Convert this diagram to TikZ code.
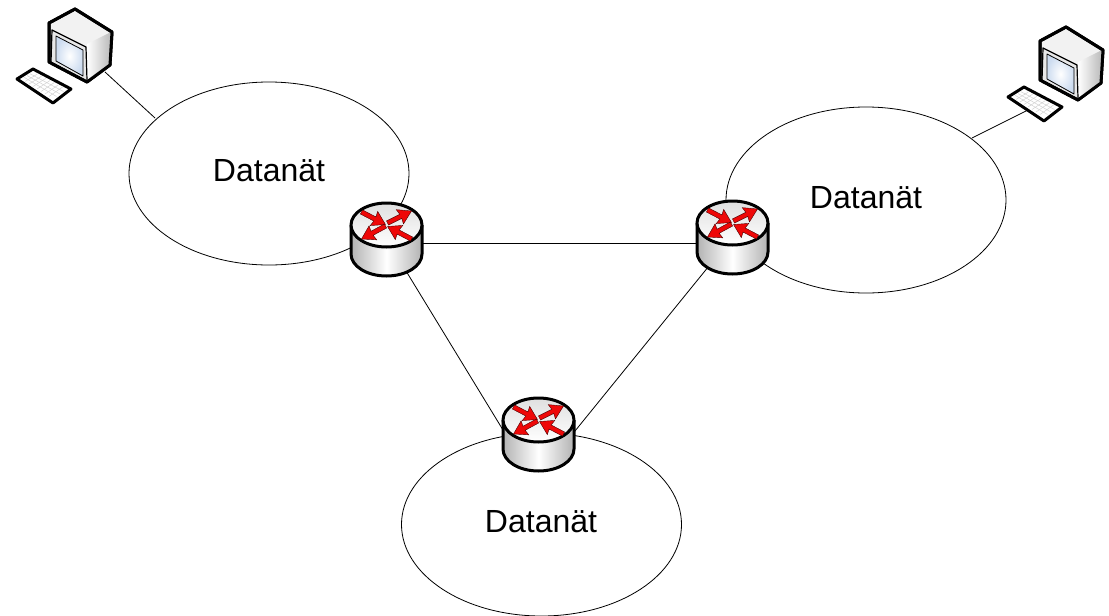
\documentclass[tikz,border=0pt]{standalone}
\usepackage{fontspec}
\setmainfont{Liberation Sans}
\usetikzlibrary{shapes.geometric,calc}
\definecolor{arrowred}{RGB}{238,8,8}
\definecolor{screenblue}{RGB}{205,220,240}
\newcommand{\redarr}[2]{%
  \fill[ra] ($(#1)!2.3pt!90:(#2)$) -- ($(#2)!12pt!(#1)!2.3pt!-90:(#1)$) -- ($(#2)!13pt!(#1)!8pt!-90:(#1)$) -- (#2) -- ($(#2)!13pt!(#1)!8pt!90:(#1)$) -- ($(#2)!12pt!(#1)!2.3pt!90:(#1)$) -- ($(#1)!2.3pt!-90:(#2)$) -- cycle;}
\tikzset{
  x=1pt,y=-1pt,
  net/.style={draw=black,line width=0.8pt,ellipse,minimum width=280pt,minimum height=183pt,inner sep=0pt},
  label/.style={font=\fontsize{32}{36}\selectfont,inner sep=0pt},
  link/.style={draw=black,line width=0.8pt},
  hub/.style={inner sep=0pt,minimum width=73pt,minimum height=74pt,rectangle},
  outl/.style={draw=black,line width=3pt,line join=round},
  ra/.style={draw=black!70!red,line width=0.4pt,fill=arrowred,line join=miter},
  router/.pic={
    \shade[left color=gray!60,right color=gray!60,middle color=white]
      (-35.5,0) -- (-35.5,29) .. controls (-35.5,41) and (-20,51) .. (0,51) .. controls (20,51) and (35.5,41) .. (35.5,29) -- (35.5,0) -- cycle;
    \draw[outl] (-35.5,0) -- (-35.5,29) .. controls (-35.5,41) and (-20,51) .. (0,51) .. controls (20,51) and (35.5,41) .. (35.5,29) -- (35.5,0);
    \shade[top color=gray!25,bottom color=white] (0,0) ellipse[x radius=35.5,y radius=22];
    \draw[outl] (0,0) ellipse[x radius=35.5,y radius=22];
    \coordinate (a1) at (-25,-13); \coordinate (a2) at (-1,-0.5);
    \coordinate (b1) at (1,-2);    \coordinate (b2) at (25,-14);
    \coordinate (c1) at (-1,1);    \coordinate (c2) at (-25,14);
    \coordinate (d1) at (25,14);   \coordinate (d2) at (1,1.5);
    \redarr{a1}{a2}\redarr{b1}{b2}\redarr{c1}{c2}\redarr{d1}{d2}
  },
  computer/.pic={
    \draw[outl,fill=gray!10] (75,9) -- (49,23) -- (49,62) -- (87,82) -- (110,65) -- (112,32) -- cycle;
    \shade[left color=white,right color=gray!55] (87,44) -- (111,32) -- (109,65) -- (87,81) -- cycle;
    \fill[gray!18] (51,29) -- (86,47) -- (86,79) -- (51,61) -- cycle;
    \draw[black,line width=1.2pt,line join=round] (51,62) -- (52,30) -- (86,47) -- (87,80);
    \shade[inner color=white,outer color=screenblue] (56,36) -- (83,50) -- (83,76) -- (56,61) -- cycle;
    \draw[black,line width=0.8pt,line join=round] (56,61) -- (56,36) -- (83,50) -- (83,76) -- cycle;
    \draw[outl] (75,9) -- (49,23) -- (49,62) -- (87,82) -- (110,65) -- (112,32) -- cycle;
    \draw[outl,fill=white] (33,69) -- (17,79) -- (53,103) -- (71,89) -- cycle;
    \foreach \t in {0.125,0.25,0.375,0.5,0.625,0.75,0.875}{\draw[gray!35,line width=0.5pt] ($(33,72)!\t!(67,89)$) -- ($(21,79)!\t!(53,99)$);}
    \foreach \t in {0.25,0.5,0.75}{\draw[gray!35,line width=0.5pt] ($(33,72)!\t!(21,79)$) -- ($(67,89)!\t!(53,99)$);}
  }
}
\begin{document}
\begin{tikzpicture}
\useasboundingbox (0,0) rectangle (1109,616);
\node[net] (n1) at (269,173.5) {};
\node[net,minimum height=186pt] (n2) at (866,200) {};
\node[net] (n3) at (541.5,524.5) {};
\node[label] (t1) at (269,171) {Datanät};
\node[label] (t2) at (866,198) {Datanät};
\node[label] (t3) at (541,522) {Datanät};
\node[hub] (r1) at (386.5,239) {};
\node[hub] (r2) at (732.5,237) {};
\node[hub] (r3) at (538.5,434) {};
\coordinate (pc1) at (105,72);
\coordinate (pc2) at (1028,110);
\coordinate (e1) at (155,118);
\coordinate (e2) at (972,138);
\draw[link] (pc1) -- (e1);
\draw[link] (pc2) -- (e2);
\draw[link] ([yshift=-4pt]r1.center) -- ([yshift=-6pt]r2.center);
\draw[link] (r1.center) -- ([xshift=-30pt,yshift=-5pt]r3.center);
\draw[link] (r2.center) -- ([xshift=30pt,yshift=-5pt]r3.center);
\pic at (386.5,225) {router};
\pic at (732.5,223) {router};
\pic at (538.5,420) {router};
\pic at (0,0) {computer};
\pic at (991,18) {computer};
\end{tikzpicture}
\end{document}
